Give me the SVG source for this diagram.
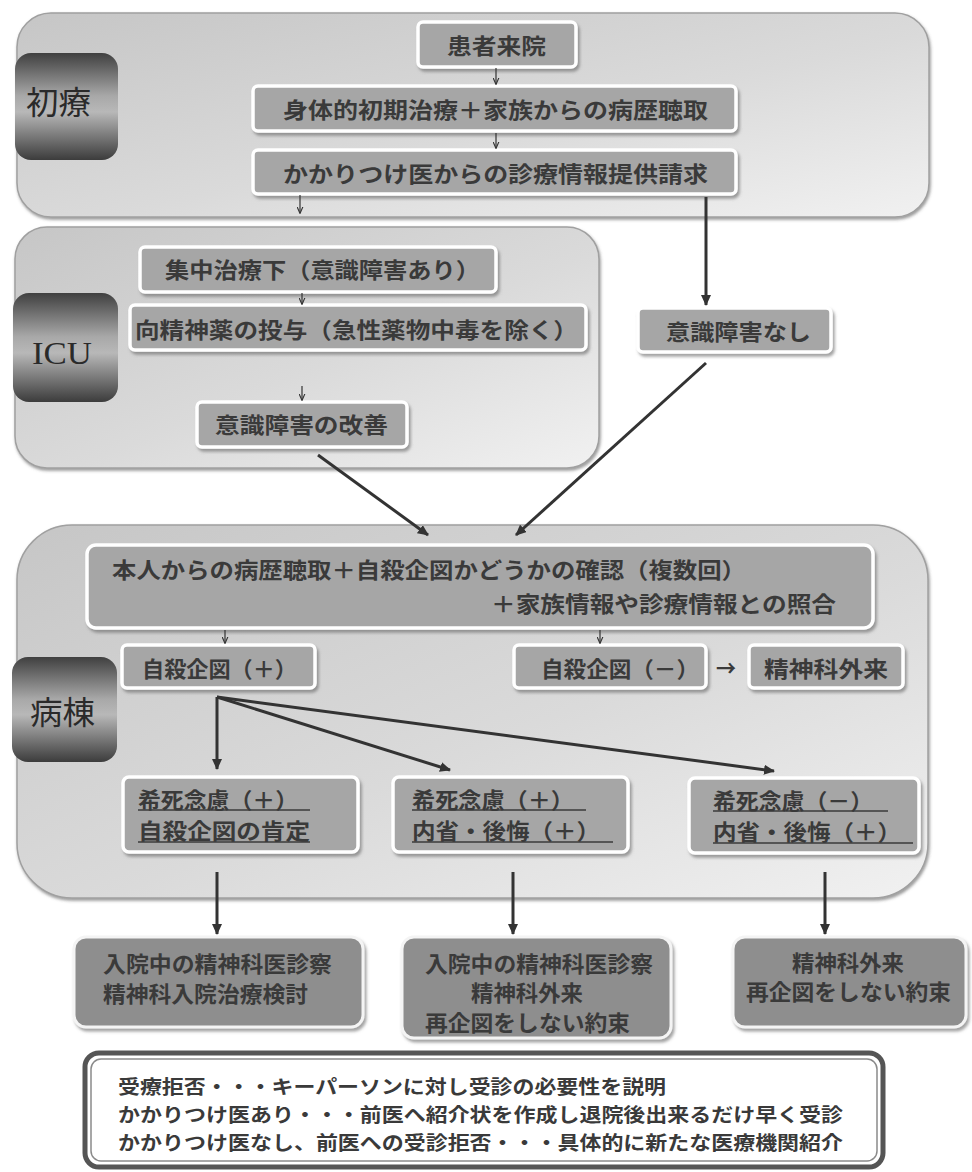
<svg xmlns="http://www.w3.org/2000/svg" width="972" height="1172" viewBox="0 0 972 1172">
<defs>
<linearGradient id="panelG" x1="0" y1="0" x2="1" y2="1">
<stop offset="0" stop-color="#c6c6c6"/><stop offset="0.55" stop-color="#dadada"/><stop offset="1" stop-color="#f1f1f1"/>
</linearGradient>
<linearGradient id="labelG" x1="0" y1="0" x2="0" y2="1">
<stop offset="0" stop-color="#404040"/><stop offset="0.4" stop-color="#a8a8a8"/><stop offset="0.55" stop-color="#b8b8b8"/><stop offset="1" stop-color="#3c3c3c"/>
</linearGradient>
<marker id="ah" markerWidth="11" markerHeight="10" refX="10" refY="5" orient="auto" markerUnits="userSpaceOnUse">
<path d="M0,0 L11,5 L0,10 z" fill="#333"/>
</marker>
<marker id="ahs" markerWidth="7" markerHeight="7" refX="6.5" refY="3.5" orient="auto" markerUnits="userSpaceOnUse">
<path d="M0,0.5 L7,3.5 L0,6.5" fill="none" stroke="#333" stroke-width="1.1"/>
</marker>
<filter id="sh" x="-5%" y="-10%" width="110%" height="130%">
<feDropShadow dx="2" dy="3" stdDeviation="1.5" flood-color="#666" flood-opacity="0.6"/>
</filter>
<filter id="psh" x="-3%" y="-5%" width="106%" height="112%">
<feDropShadow dx="1" dy="2" stdDeviation="1.5" flood-color="#555" flood-opacity="0.6"/>
</filter>
</defs>
<style>
text{font-family:"Noto Sans CJK JP","Noto Sans",sans-serif;font-weight:bold;fill:#3a3a3a;font-size:22px;dominant-baseline:central}
.panel{fill:url(#panelG);stroke:#a0a0a0;stroke-width:1.5;filter:url(#psh)}
.lab{fill:url(#labelG)}
.labt{font-size:32px;fill:#2a2a2a;font-weight:normal}
.box{fill:#a6a6a6;stroke:#ffffff;stroke-width:3.5;filter:url(#sh)}
.dbox{fill:#8e8e8e;stroke:#f4f4f4;stroke-width:3;filter:url(#sh)}
.thin{stroke:#333;stroke-width:1.2;fill:none;marker-end:url(#ahs)}
.thick{stroke:#333;stroke-width:3;fill:none;marker-end:url(#ah)}
.ul{stroke:#3a3a3a;stroke-width:1.5}
.note{font-size:19px}
</style>
<rect width="972" height="1172" fill="#ffffff"/>

<g id="panel-shoryo">
<rect class="panel" x="17" y="13" width="912" height="204" rx="34"/>
<rect class="lab" x="15" y="53" width="103" height="107" rx="16"/>
<text class="labt" x="26" y="100" textLength="65" lengthAdjust="spacingAndGlyphs">初療</text>
</g>
<g id="panel-icu">
<rect class="panel" x="15" y="227" width="584" height="241" rx="32"/>
<rect class="lab" x="13" y="293" width="105" height="109" rx="16"/>
<text class="labt" x="32" y="353" textLength="60" lengthAdjust="spacingAndGlyphs" style="font-family:'Liberation Serif',serif">ICU</text>
</g>
<g id="panel-byoto">
<rect class="panel" x="17" y="525" width="911" height="373" rx="55"/>
<rect class="lab" x="12" y="657" width="105" height="105" rx="16"/>
<text class="labt" x="30" y="710" textLength="65" lengthAdjust="spacingAndGlyphs">病棟</text>
</g>

<g id="n-kanja"><rect class="box" x="418" y="22" width="158" height="45" rx="5"/>
<text x="447" y="44" textLength="99" lengthAdjust="spacingAndGlyphs">患者来院</text></g>
<g id="n-shintai"><rect class="box" x="253" y="86" width="483" height="45" rx="5"/>
<text x="283" y="108" textLength="425" lengthAdjust="spacingAndGlyphs">身体的初期治療＋家族からの病歴聴取</text></g>
<g id="n-kakari"><rect class="box" x="253" y="150" width="483" height="44" rx="5"/>
<text x="283" y="172" textLength="425" lengthAdjust="spacingAndGlyphs">かかりつけ医からの診療情報提供請求</text></g>

<g id="n-shuchu"><rect class="box" x="140" y="247" width="356" height="45" rx="5"/>
<text x="165" y="268" textLength="315" lengthAdjust="spacingAndGlyphs">集中治療下（意識障害あり）</text></g>
<g id="n-koseishin"><rect class="box" x="130" y="305" width="456" height="45" rx="5"/>
<text x="135" y="328" textLength="443" lengthAdjust="spacingAndGlyphs">向精神薬の投与（急性薬物中毒を除く）</text></g>
<g id="n-kaizen"><rect class="box" x="197" y="402" width="210" height="45" rx="5"/>
<text x="215" y="423" textLength="173" lengthAdjust="spacingAndGlyphs">意識障害の改善</text></g>
<g id="n-nashi"><rect class="box" x="638" y="308" width="193" height="44" rx="5"/>
<text x="666" y="330" textLength="145" lengthAdjust="spacingAndGlyphs">意識障害なし</text></g>

<g id="n-honnin"><rect class="box" x="87" y="545" width="786" height="83" rx="9"/>
<text x="112" y="568" textLength="634" lengthAdjust="spacingAndGlyphs">本人からの病歴聴取＋自殺企図かどうかの確認（複数回）</text>
<text x="491" y="602" textLength="345" lengthAdjust="spacingAndGlyphs">＋家族情報や診療情報との照合</text></g>
<g id="n-jisatsu-plus"><rect class="box" x="122" y="645" width="193" height="43" rx="5"/>
<text x="142" y="667" textLength="155" lengthAdjust="spacingAndGlyphs">自殺企図（＋）</text></g>
<g id="n-jisatsu-minus"><rect class="box" x="514" y="645" width="192" height="43" rx="5"/>
<text x="541" y="667" textLength="158" lengthAdjust="spacingAndGlyphs">自殺企図（－）</text></g>
<g id="n-gairai1"><rect class="box" x="749" y="645" width="154" height="43" rx="5"/>
<text x="764" y="667" textLength="124" lengthAdjust="spacingAndGlyphs">精神科外来</text></g>

<g id="n-kishi1"><rect class="box" x="123" y="777" width="235" height="75" rx="6"/>
<text x="138" y="798" textLength="160" lengthAdjust="spacingAndGlyphs">希死念慮（＋）</text>
<line class="ul" x1="138" y1="810" x2="310" y2="810"/>
<text x="138" y="829" textLength="172" lengthAdjust="spacingAndGlyphs">自殺企図の肯定</text>
<line class="ul" x1="138" y1="842" x2="310" y2="842"/></g>
<g id="n-kishi2"><rect class="box" x="393" y="777" width="235" height="75" rx="6"/>
<text x="412" y="798" textLength="162" lengthAdjust="spacingAndGlyphs">希死念慮（＋）</text>
<line class="ul" x1="412" y1="810" x2="586" y2="810"/>
<text x="412" y="829" textLength="188" lengthAdjust="spacingAndGlyphs">内省・後悔（＋）</text>
<line class="ul" x1="412" y1="842" x2="613" y2="842"/></g>
<g id="n-kishi3"><rect class="box" x="689" y="778" width="230" height="75" rx="6"/>
<text x="713" y="799" textLength="160" lengthAdjust="spacingAndGlyphs">希死念慮（－）</text>
<line class="ul" x1="713" y1="811" x2="888" y2="811"/>
<text x="713" y="830" textLength="188" lengthAdjust="spacingAndGlyphs">内省・後悔（＋）</text>
<line class="ul" x1="713" y1="843" x2="913" y2="843"/></g>

<g id="n-out1"><rect class="dbox" x="74" y="937" width="289" height="90" rx="12"/>
<text x="103" y="962" textLength="229" lengthAdjust="spacingAndGlyphs">入院中の精神科医診察</text>
<text x="103" y="992" textLength="205" lengthAdjust="spacingAndGlyphs">精神科入院治療検討</text></g>
<g id="n-out2"><rect class="dbox" x="402" y="937" width="269" height="101" rx="12"/>
<text x="425" y="962" textLength="228" lengthAdjust="spacingAndGlyphs">入院中の精神科医診察</text>
<text x="527" y="991" text-anchor="middle" textLength="112" lengthAdjust="spacingAndGlyphs">精神科外来</text>
<text x="425" y="1021" textLength="205" lengthAdjust="spacingAndGlyphs">再企図をしない約束</text></g>
<g id="n-out3"><rect class="dbox" x="733" y="937" width="233" height="90" rx="12"/>
<text x="848" y="961" text-anchor="middle" textLength="112" lengthAdjust="spacingAndGlyphs">精神科外来</text>
<text x="746" y="990" textLength="205" lengthAdjust="spacingAndGlyphs">再企図をしない約束</text></g>

<g id="n-note">
<rect x="85" y="1053" width="798" height="114" rx="14" fill="#ffffff" stroke="#555" stroke-width="5"/>
<rect x="91" y="1059" width="786" height="102" rx="10" fill="none" stroke="#8a8a8a" stroke-width="1.5"/>
<text class="note" x="118" y="1085" textLength="548" lengthAdjust="spacingAndGlyphs">受療拒否・・・キーパーソンに対し受診の必要性を説明</text>
<text class="note" x="118" y="1113" textLength="725" lengthAdjust="spacingAndGlyphs">かかりつけ医あり・・・前医へ紹介状を作成し退院後出来るだけ早く受診</text>
<text class="note" x="118" y="1141" textLength="725" lengthAdjust="spacingAndGlyphs">かかりつけ医なし、前医への受診拒否・・・具体的に新たな医療機関紹介</text>
</g>

<g id="connectors">
<line class="thin" x1="496" y1="68" x2="496" y2="84"/>
<line class="thin" x1="496" y1="133" x2="496" y2="148"/>
<line class="thin" x1="300" y1="195" x2="300" y2="213"/>
<line class="thick" x1="706" y1="197" x2="706" y2="305"/>
<line class="thin" x1="302" y1="293" x2="302" y2="304"/>
<line class="thin" x1="302" y1="386" x2="302" y2="400"/>
<line class="thick" x1="318" y1="455" x2="428" y2="535"/>
<line class="thick" x1="706" y1="363" x2="516" y2="535"/>
<line class="thin" x1="225" y1="630" x2="225" y2="643"/>
<line class="thin" x1="600" y1="630" x2="600" y2="643"/>
<text x="716" y="666" textLength="20" lengthAdjust="spacingAndGlyphs">→</text>
<line class="thick" x1="217" y1="697" x2="217" y2="769"/>
<line class="thick" x1="217" y1="697" x2="450" y2="770"/>
<line class="thick" x1="217" y1="697" x2="774" y2="771"/>
<line class="thick" x1="217" y1="872" x2="217" y2="934"/>
<line class="thick" x1="513" y1="872" x2="513" y2="934"/>
<line class="thick" x1="825" y1="872" x2="825" y2="934"/>
</g>
</svg>
